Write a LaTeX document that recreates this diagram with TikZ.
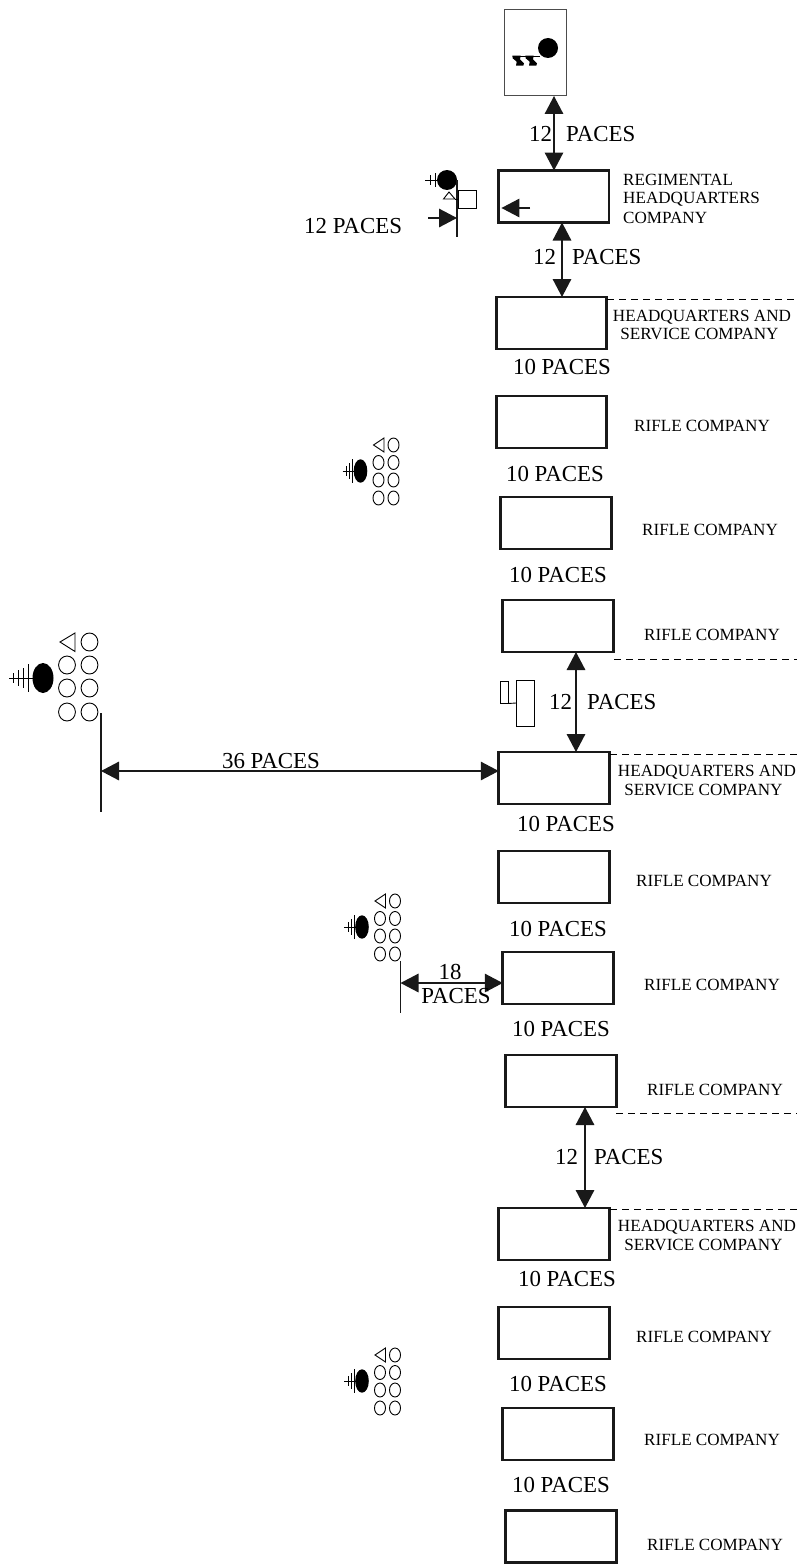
\documentclass[tikz,border=0pt]{standalone}
\usepackage{fontspec}
\setmainfont{Liberation Serif}
\usetikzlibrary{arrows.meta}
\definecolor{ink}{gray}{0.1}
\tikzset{
  x=1pt,y=-1pt,
  co/.style={draw=ink,line width=2.6pt,minimum width=110.5pt,minimum height=52pt,inner sep=0,outer sep=0,fill=white},
  pagebox/.style={draw=black!70,line width=1pt,minimum width=62pt,minimum height=86pt,inner sep=0,outer sep=0},
  big/.style={font=\fontsize{22.9}{22.9}\selectfont,inner sep=0,text height=15pt,text depth=0pt},
  small/.style={font=\fontsize{17.1}{17.1}\selectfont,inner sep=0,text height=11.2pt,text depth=0pt},
  smallw/.style={small,anchor=west},
  dbl/.style={line width=1.5pt,draw=ink,{Triangle[length=18pt,width=18.5pt]}-{Triangle[length=18pt,width=18.5pt]},shorten <=0pt,shorten >=0pt},
  one/.style={line width=1.5pt,draw=ink,-{Triangle[length=18pt,width=18.5pt]}},
  thin line/.style={line width=.9pt,draw=black},
  rule/.style={line width=1.4pt,draw=ink},
  dashline/.style={line width=.8pt,draw=black,dash pattern=on 7pt off 5pt},
}
\newcommand{\platoon}[1]{%
 \begin{scope}[shift={(#1)}]
  \fill[black] (0,0) ellipse [x radius=6.8,y radius=11.7];
  \draw[thin line] (-18,0) -- (-6,0) (-14,-5) -- (-14,5) (-11,-8) -- (-11,8) (-8,-12) -- (-8,12);
  \draw[thin line] (23.5,-33) -- (23.5,-19) -- (13,-26) -- cycle;
  \foreach \cx/\cy in {33/-26,18/-8.5,33/-8.5,18/9,33/9,18/27,33/27}
    \draw[thin line] (\cx,\cy) ellipse [x radius=5.5,y radius=7];
 \end{scope}}
\begin{document}
\begin{tikzpicture}
\useasboundingbox (0,0) rectangle (797,1568);
% companies
\node[pagebox] (pg) at (535,53) {};
\node[co] (rhq) at (553.7,196.5) {};
\node[co] (hs1) at (551.5,323) {};
\node[co] (r11) at (551.5,422) {};
\node[co] (r12) at (556,523) {};
\node[co] (r13) at (558,626) {};
\node[co] (hs2) at (554,778) {};
\node[co] (r21) at (554,877) {};
\node[co] (r22) at (558,978) {};
\node[co] (r23) at (561,1081) {};
\node[co] (hs3) at (554,1234) {};
\node[co] (r31) at (554,1333) {};
\node[co] (r32) at (558,1434) {};
\node[co] (r33) at (561,1536.5) {};
% regimental commander symbol
\fill[black] (548,48) circle [radius=10];
\draw[thin line] (520,56) -- (540,56);
\foreach \dx in {0,13}
  \fill[black,shift={(\dx,0)}] (512.3,55.7) -- (520.7,55.7) -- (520,59.3) -- (524,63.3) -- (523.3,65.7) -- (516,65.7) -- (516.7,61.7) -- (512.7,58.3) -- cycle;
% HQ company staff symbol
\fill[black] (447,180) circle [radius=10];
\draw[thin line] (425,180) -- (438,180) (430,175) -- (430,185) (435,173) -- (435,187);
\coordinate (staffT) at (457,180);
\coordinate (staffB) at (457,237);
\draw[rule] (staffT) -- (staffB);
\draw[thin line] (449,192) -- (443.5,199) -- (455,199) -- cycle;
\draw[thin line] (455,199) -- (458,199);
\node[draw=black,line width=.9pt,minimum width=18pt,minimum height=18pt,inner sep=0,outer sep=0] (sq) at (467,199) {};
\coordinate (pA) at (428,218);
\draw[one] (pA) -- (staffB |- pA);
\coordinate (pB) at (530,208);
\draw[one] ([xshift=0pt]pB) -- ([xshift=3pt]rhq.west |- pB);
% vehicle symbol
\node[draw=black,line width=.9pt,minimum width=7.5pt,minimum height=22pt,inner sep=0,outer sep=0] (veh1) at (504.5,692.5) {};
\node[draw=black,line width=.9pt,minimum width=18pt,minimum height=46pt,inner sep=0,outer sep=0] (veh2) at (525,703) {};
\draw[thin line] (veh1.south east) -- (veh2.west);
% arrows
\draw[dbl] ([xshift=19pt]pg.south) -- ([xshift=0.3pt]rhq.north);
\draw[dbl] ([xshift=8.3pt]rhq.south) -- ([xshift=10.5pt]hs1.north);
\draw[dbl] ([xshift=18pt]r13.south) -- ([xshift=22pt]hs2.north);
\draw[dbl] ([xshift=24pt]r23.south) -- ([xshift=31pt]hs3.north);
% battalion commanders
\platoon{360.5,471}
\platoon{362,927}
\platoon{362,1381}
% regimental group big symbol
\fill[black] (43,678) ellipse [x radius=10.5,y radius=15];
\draw[thin line] (9,678) -- (33,678) (13,673) -- (13,683) (18,670) -- (18,686) (23,668) -- (23,688) (28,664) -- (28,692);
\draw[thin line] (75,633) -- (75,651.5) -- (60,642) -- cycle;
\foreach \cx/\cy in {89.5/642,67/665,89.5/665,67/688,89.5/688,67/712,89.5/712}
  \draw[thin line] (\cx,\cy) ellipse [x radius=8.4,y radius=9];
\coordinate (l36T) at (101,713);
\coordinate (l36B) at (101,812);
\draw[rule] (l36T) -- (l36B);
\coordinate (a36) at (101,771);
\draw[dbl] (a36) -- (hs2.west |- a36);
\node[big] (t36) at (271,761) {36 PACES};
\coordinate (l18T) at (400.5,961);
\coordinate (l18B) at (400.5,1013);
\draw[rule] (l18T) -- (l18B);
\coordinate (a18) at (400.5,983);
\draw[dbl] (a18) -- (r22.west |- a18);
\node[big] (t18) at (450,972) {18};
\node[big] (t18b) at (456,996) {PACES};
% pace labels
\node[big,anchor=west] (a1) at (529,134) {12};
\node[big,anchor=west] (a2) at (566,134) {PACES};
\node[big,anchor=west] (b1) at (304,226) {12 PACES};
\node[big,anchor=west] (c1) at (533,257) {12};
\node[big,anchor=west] (c2) at (572,257) {PACES};
\node[big,anchor=west] (d1) at (549,702) {12};
\node[big,anchor=west] (d2) at (587,702) {PACES};
\node[big,anchor=west] (e1) at (555,1157) {12};
\node[big,anchor=west] (e2) at (594,1157) {PACES};
\node[big] (p1) at (562,367) {10 PACES};
\node[big] (p2) at (555,474) {10 PACES};
\node[big] (p3) at (558,575) {10 PACES};
\node[big] (p4) at (566,824) {10 PACES};
\node[big] (p5) at (558,929) {10 PACES};
\node[big] (p6) at (561,1029) {10 PACES};
\node[big] (p7) at (567,1279) {10 PACES};
\node[big] (p8) at (558,1384) {10 PACES};
\node[big] (p9) at (561,1485) {10 PACES};
% company labels
\node[smallw] (n1) at (623,180) {REGIMENTAL};
\node[smallw] (n2) at (623,198) {HEADQUARTERS};
\node[smallw] (n3) at (623,218) {COMPANY};
\node[small] (h1) at (702,316) {HEADQUARTERS AND};
\node[small] (h2) at (699.5,334) {SERVICE COMPANY};
\node[small] (h3) at (707,771) {HEADQUARTERS AND};
\node[small] (h4) at (703.5,790) {SERVICE COMPANY};
\node[small] (h5) at (707,1226) {HEADQUARTERS AND};
\node[small] (h6) at (703.5,1245) {SERVICE COMPANY};
\node[smallw] (l1) at (634,426) {RIFLE COMPANY};
\node[smallw] (l2) at (642,530) {RIFLE COMPANY};
\node[smallw] (l3) at (644,635) {RIFLE COMPANY};
\node[smallw] (l4) at (636,881) {RIFLE COMPANY};
\node[smallw] (l5) at (644,985) {RIFLE COMPANY};
\node[smallw] (l6) at (647,1090) {RIFLE COMPANY};
\node[smallw] (l7) at (636,1337) {RIFLE COMPANY};
\node[smallw] (l8) at (644,1440) {RIFLE COMPANY};
\node[smallw] (l9) at (647,1545) {RIFLE COMPANY};
% dashed
\coordinate (dr) at (797,0);
\draw[dashline] (607,299) -- (dr |- 0,299);
\draw[dashline] (614,659) -- (dr |- 0,659);
\draw[dashline] (610,754) -- (dr |- 0,754);
\draw[dashline] (616,1113) -- (dr |- 0,1113);
\draw[dashline] (610,1209) -- (dr |- 0,1209);
\end{tikzpicture}
\end{document}
